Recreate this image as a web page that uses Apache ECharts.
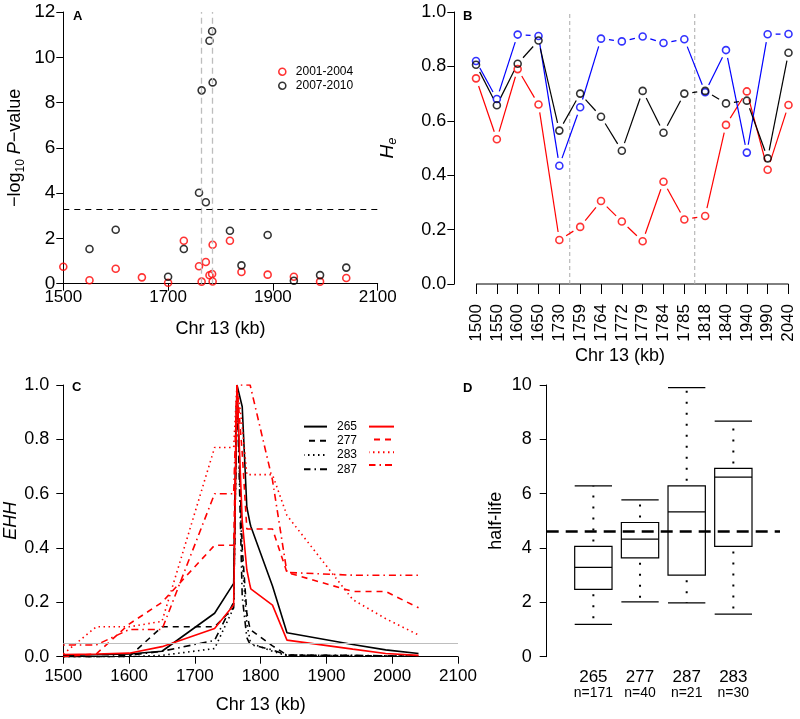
<!DOCTYPE html>
<html>
<head>
<meta charset="utf-8">
<script src="https://cdn.jsdelivr.net/npm/echarts@6/dist/echarts.min.js"></script>
<style>
html, body { margin: 0; padding: 0; background: #fff; }
#chart { width: 800px; height: 719px; }
</style>
</head>
<body>
<div id="chart"></div>
<script>
const FONT = "'Liberation Sans', Arial, sans-serif"

// A: -log10 p-value by position
const aPosRed = [1500, 1550, 1600, 1650, 1700, 1730, 1759, 1764, 1772, 1779, 1784, 1785, 1785, 1818, 1840, 1890, 1940, 1990, 2040]
const aValRed = [0.75, 0.15, 0.66, 0.28, 0.04, 1.9, 0.77, 0.09, 0.96, 0.37, 0.43, 1.72, 0.1, 1.9, 0.52, 0.4, 0.31, 0.09, 0.25]
const aPosBlack = [1550, 1600, 1700, 1730, 1759, 1764, 1772, 1779, 1784, 1785, 1818, 1840, 1890, 1940, 1990, 2040]
const aValBlack = [1.53, 2.38, 0.31, 1.53, 4.02, 8.54, 3.6, 10.73, 11.15, 8.89, 2.34, 0.81, 2.15, 0.13, 0.38, 0.71]
const aThreshold = 3.3
const aMarks = [1764, 1785]

// B: He per marker
const bPositions = ['1500', '1550', '1600', '1650', '1730', '1759', '1764', '1772', '1779', '1784', '1785', '1818', '1840', '1940', '1990', '2040']
const bBlue = [0.82, 0.68, 0.917, 0.912, 0.435, 0.65, 0.902, 0.892, 0.91, 0.886, 0.9, 0.705, 0.86, 0.483, 0.918, 0.919]
const bBlack = [0.806, 0.657, 0.81, 0.895, 0.564, 0.7, 0.615, 0.49, 0.71, 0.556, 0.7, 0.71, 0.664, 0.674, 0.462, 0.85]
const bRed = [0.756, 0.532, 0.79, 0.66, 0.162, 0.21, 0.305, 0.23, 0.157, 0.376, 0.237, 0.25, 0.585, 0.708, 0.42, 0.658]

// C: EHH curves
const cPositions = [1500, 1550, 1600, 1650, 1730, 1759, 1764, 1772, 1779, 1784, 1785, 1818, 1840, 1940, 1990, 2040]
const cBlack265 = [0.005, 0.007, 0.01, 0.02, 0.16, 0.27, 1.0, 0.92, 0.55, 0.49, 0.48, 0.26, 0.088, 0.045, 0.025, 0.012]
const cBlack277 = [0, 0, 0, 0.11, 0.11, 0.18, 1.0, 0.4, 0.16, 0.1, 0.098, 0.04, 0.006, 0.004, 0.003, 0.002]
const cBlack283 = [0, 0, 0, 0.005, 0.03, 0.18, 1.0, 0.35, 0.12, 0.06, 0.05, 0.02, 0.004, 0.004, 0.003, 0.002]
const cBlack287 = [0, 0, 0.005, 0.02, 0.06, 0.2, 1.0, 0.22, 0.07, 0.045, 0.043, 0.025, 0.006, 0.005, 0.003, 0.002]
const cRed265 = [0.008, 0.01, 0.013, 0.037, 0.104, 0.19, 1.0, 0.5, 0.32, 0.26, 0.25, 0.19, 0.061, 0.028, 0.012, 0.005]
const cRed277 = [0, 0.01, 0.12, 0.2, 0.41, 0.41, 1.0, 0.75, 0.47, 0.47, 0.47, 0.47, 0.31, 0.24, 0.24, 0.18]
const cRed283 = [0.01, 0.11, 0.11, 0.13, 0.77, 0.77, 1.0, 0.85, 0.67, 0.67, 0.67, 0.67, 0.52, 0.21, 0.14, 0.08]
const cRed287 = [0.043, 0.043, 0.1, 0.1, 0.6, 0.6, 1.0, 1.0, 1.0, 1.0, 1.0, 0.65, 0.31, 0.3, 0.3, 0.3]
const cCutoff = 0.05

// D: half-life boxplots
const dNames = ['265', '277', '287', '283']
const dCounts = ['n=171', 'n=40', 'n=21', 'n=30']
const dLow = [1.19, 2.02, 1.98, 1.57]
const dQ1 = [2.48, 3.64, 3.0, 4.06]
const dMed = [3.29, 4.33, 5.33, 6.61]
const dQ3 = [4.06, 4.94, 6.29, 6.93]
const dHigh = [6.29, 5.77, 9.9, 8.67]
const dMean = 4.6

const zip = (xs, ys) => xs.map((x, i) => [x, ys[i]])

function baseAxis(extra) {
  let ax = {
    type: 'value',
    axisLine: { show: true, lineStyle: { color: '#000', width: 1 } },
    axisTick: { show: true, length: 7, lineStyle: { color: '#000', width: 1 } },
    axisLabel: { color: '#000', fontSize: 18, fontFamily: FONT },
    splitLine: { show: false },
    nameLocation: 'middle',
    nameTextStyle: { color: '#000', fontSize: 18, fontFamily: FONT }
  }
  for (let k in extra) {
    if (typeof extra[k] === 'object' && !Array.isArray(extra[k]) && ax[k]) {
      ax[k] = Object.assign({}, ax[k], extra[k])
    } else {
      ax[k] = extra[k]
    }
  }
  return ax
}

// R "type b" lines: segments stop short of the points
function gapSegments(vals) {
  let d = []
  for (let i = 0; i < vals.length - 1; i++) d.push([i, vals[i], i + 1, vals[i + 1]])
  return d
}
function gapRenderer(color) {
  return function (params, api) {
    let p1 = api.coord([api.value(0), api.value(1)])
    let p2 = api.coord([api.value(2), api.value(3)])
    let dx = p2[0] - p1[0], dy = p2[1] - p1[1]
    let len = Math.sqrt(dx * dx + dy * dy)
    let gap = 8
    if (len <= 2 * gap) return null
    let ux = dx / len, uy = dy / len
    return {
      type: 'line',
      shape: { x1: p1[0] + ux * gap, y1: p1[1] + uy * gap, x2: p2[0] - ux * gap, y2: p2[1] - uy * gap },
      style: { stroke: color, lineWidth: 1.2 }
    }
  }
}

function renderBox(params, api) {
  let x = api.value(0)
  let cL = api.coord([x - 0.4, 0])[0], cR = api.coord([x + 0.4, 0])[0], cM = api.coord([x, 0])[0]
  let y = k => api.coord([x, api.value(k)])[1]
  let yLow = y(1), yQ1 = y(2), yMed = y(3), yQ3 = y(4), yHigh = y(5)
  let solid = { stroke: '#000', lineWidth: 1.2 }
  let dots = { stroke: '#000', lineWidth: 2, lineDash: [2, 9], lineDashOffset: 6 }
  return {
    type: 'group',
    children: [
      { type: 'line', shape: { x1: cM, y1: yQ3, x2: cM, y2: yHigh }, style: dots },
      { type: 'line', shape: { x1: cM, y1: yQ1, x2: cM, y2: yLow }, style: dots },
      { type: 'rect', shape: { x: cL, y: yQ3, width: cR - cL, height: yQ1 - yQ3 }, style: { stroke: '#000', lineWidth: 1.2, fill: 'none' } },
      { type: 'line', shape: { x1: cL, y1: yMed, x2: cR, y2: yMed }, style: solid },
      { type: 'line', shape: { x1: cL, y1: yHigh, x2: cR, y2: yHigh }, style: solid },
      { type: 'line', shape: { x1: cL, y1: yLow, x2: cR, y2: yLow }, style: solid }
    ]
  }
}

const DASH = [6, 5], DOT = [1.5, 3.5], DOTDASH = [1.5, 4, 7, 4]

function ehhLine(name, vals, color, type) {
  return {
    name: name,
    type: 'line',
    xAxisIndex: 2,
    yAxisIndex: 2,
    data: zip(cPositions, vals),
    symbol: 'none',
    lineStyle: { color: color, width: 1.6, type: type },
    itemStyle: { color: color },
    z: 3
  }
}

function hollow(color) {
  return { color: 'rgba(0,0,0,0)', borderColor: color, borderWidth: 1.6 }
}

let chart = echarts.init(document.getElementById('chart'))

let option = {
  animation: false,
  backgroundColor: '#fff',
  textStyle: { fontFamily: FONT },
  grid: [
    { left: 63.3, right: 422.3, top: 12, bottom: 435.3 },
    { left: 465.6, right: 1.1, top: 12, bottom: 435 },
    { left: 63.3, right: 342, top: 385, bottom: 62.3 },
    { left: 546.7, right: 20, top: 385, bottom: 62.3 }
  ],
  xAxis: [
    baseAxis({ gridIndex: 0, min: 1500, max: 2100, interval: 200,
      axisLabel: { margin: 5, fontSize: 17, formatter: v => String(v) }, name: 'Chr 13 (kb)', nameGap: 36 }),
    baseAxis({ gridIndex: 1, type: 'category', data: bPositions, boundaryGap: true,
      axisLine: { show: false },
      axisTick: { alignWithLabel: true, length: 10 },
      axisLabel: { rotate: 90, margin: 20, fontSize: 17, interval: 0 } }),
    baseAxis({ gridIndex: 2, min: 1500, max: 2100, interval: 100,
      axisLabel: { margin: 11, fontSize: 17, formatter: v => String(v) }, name: 'Chr 13 (kb)', nameGap: 39 }),
    baseAxis({ gridIndex: 3, min: 0, max: 5, interval: 1,
      axisLine: { show: false }, axisTick: { show: false },
      axisLabel: {
        margin: 12,
        formatter: v => (v >= 1 && v <= 4) ? '{a|' + dNames[v - 1] + '}\n{b|' + dCounts[v - 1] + '}' : '',
        rich: {
          a: { fontSize: 17, lineHeight: 17, color: '#000', fontFamily: FONT },
          b: { fontSize: 14, lineHeight: 15, color: '#000', fontFamily: FONT }
        }
      } })
  ],
  yAxis: [
    baseAxis({ gridIndex: 0, min: 0, max: 12, interval: 2,
      axisLabel: { margin: 8, fontSize: 19 },
      name: '{t|−log}{s|10}{t| }{i|P}{t|−value}', nameGap: 37, nameRotate: 90,
      nameTextStyle: {
        rich: {
          t: { fontSize: 18, lineHeight: 22, color: '#000', fontFamily: FONT },
          i: { fontSize: 18, lineHeight: 22, fontStyle: 'italic', color: '#000', fontFamily: FONT },
          s: { fontSize: 12, lineHeight: 12, verticalAlign: 'bottom', color: '#000', fontFamily: FONT }
        }
      } }),
    baseAxis({ gridIndex: 1, min: 0, max: 1, interval: 0.2, offset: 11.3,
      axisLabel: { margin: 8, fontSize: 18, formatter: v => v.toFixed(1) },
      name: '{h|H}{e|e}', nameGap: 55, nameRotate: 90,
      nameTextStyle: {
        rich: {
          h: { fontSize: 19, lineHeight: 24, fontStyle: 'italic', color: '#000', fontFamily: FONT },
          e: { fontSize: 13, lineHeight: 13, fontStyle: 'italic', verticalAlign: 'bottom', color: '#000', fontFamily: FONT }
        }
      } }),
    baseAxis({ gridIndex: 2, min: 0, max: 1, interval: 0.2,
      axisLabel: { margin: 14, fontSize: 18, formatter: v => v.toFixed(1) },
      name: 'EHH', nameGap: 39, nameRotate: 90,
      nameTextStyle: { fontStyle: 'italic' } }),
    baseAxis({ gridIndex: 3, min: 0, max: 10, interval: 2,
      axisLabel: { margin: 15, fontSize: 18 },
      name: 'half-life', nameGap: 42, nameRotate: 90 })
  ],
  legend: [
    {
      data: ['2001-2004', '2007-2010'],
      orient: 'vertical', left: 278, top: 64.7, padding: 0,
      itemWidth: 7, itemHeight: 14, itemGap: 0, icon: 'circle', selectedMode: false,
      itemStyle: { color: 'rgba(0,0,0,0)', borderWidth: 1.6 },
      textStyle: { fontSize: 12, lineHeight: 14, color: '#000', padding: [0, 0, 0, 5] }
    },
    {
      data: ['k265', 'k277', 'k283', 'k287'],
      formatter: n => n.slice(1),
      orient: 'vertical', left: 303, top: 419.6, padding: 0,
      itemWidth: 23, itemHeight: 14, itemGap: 0.2, selectedMode: false,
      itemStyle: { opacity: 0 },
      textStyle: { fontSize: 12, lineHeight: 14, color: '#000', padding: [0, 0, 0, 5] }
    },
    {
      data: ['r265', 'r277', 'r283', 'r287'],
      formatter: () => '',
      orient: 'vertical', left: 368, top: 419.6, padding: 0,
      itemWidth: 25, itemHeight: 14, itemGap: 0.2, selectedMode: false,
      itemStyle: { opacity: 0 }
    }
  ],
  graphic: [
    { type: 'text', x: 73, y: 16, style: { text: 'A', fontSize: 13, fontWeight: 'bold', fontFamily: FONT, fill: '#000', verticalAlign: 'middle' } },
    { type: 'text', x: 463, y: 16, style: { text: 'B', fontSize: 13, fontWeight: 'bold', fontFamily: FONT, fill: '#000', verticalAlign: 'middle' } },
    { type: 'text', x: 72, y: 387, style: { text: 'C', fontSize: 13, fontWeight: 'bold', fontFamily: FONT, fill: '#000', verticalAlign: 'middle' } },
    { type: 'text', x: 463, y: 388, style: { text: 'D', fontSize: 13, fontWeight: 'bold', fontFamily: FONT, fill: '#000', verticalAlign: 'middle' } },
    { type: 'text', x: 620, y: 356, style: { text: 'Chr 13 (kb)', fontSize: 18, fontFamily: FONT, fill: '#000', align: 'center', verticalAlign: 'middle' } }
  ],
  series: [
    // A
    {
      name: '2001-2004', type: 'scatter', xAxisIndex: 0, yAxisIndex: 0,
      data: zip(aPosRed, aValRed), symbol: 'circle', symbolSize: 7,
      itemStyle: hollow('#ff0000'), z: 3,
      markLine: {
        silent: true, symbol: ['none', 'none'], label: { show: false },
        data: [
          { xAxis: aMarks[0], lineStyle: { color: '#bdbdbd', width: 1.3, type: [6, 4] } },
          { xAxis: aMarks[1], lineStyle: { color: '#bdbdbd', width: 1.3, type: [6, 4] } },
          { yAxis: aThreshold, lineStyle: { color: '#000', width: 1, type: [6, 5] } }
        ]
      }
    },
    {
      name: '2007-2010', type: 'scatter', xAxisIndex: 0, yAxisIndex: 0,
      data: zip(aPosBlack, aValBlack), symbol: 'circle', symbolSize: 7,
      itemStyle: hollow('#000000'), z: 4
    },
    // B
    {
      type: 'custom', xAxisIndex: 1, yAxisIndex: 1, silent: true,
      data: [[0, 15]],
      renderItem: (params, api) => {
        let p1 = api.coord([api.value(0), 0]), p2 = api.coord([api.value(1), 0])
        return { type: 'line', shape: { x1: p1[0], y1: p1[1], x2: p2[0], y2: p2[1] }, style: { stroke: '#000', lineWidth: 1 } }
      }
    },
    {
      type: 'custom', xAxisIndex: 1, yAxisIndex: 1, silent: true,
      data: [[4, 5], [10, 11]],
      renderItem: (params, api) => {
        let a = api.coord([api.value(0), 0]), b = api.coord([api.value(1), 1])
        let x = (a[0] + b[0]) / 2
        return { type: 'line', shape: { x1: x, y1: a[1], x2: x, y2: b[1] }, style: { stroke: '#aaaaaa', lineWidth: 1, lineDash: [4, 3] } }
      }
    },
    { type: 'custom', xAxisIndex: 1, yAxisIndex: 1, data: gapSegments(bRed), renderItem: gapRenderer('#ff0000'), encode: { x: [0, 2], y: [1, 3] }, silent: true },
    { type: 'custom', xAxisIndex: 1, yAxisIndex: 1, data: gapSegments(bBlue), renderItem: gapRenderer('#0000ff'), encode: { x: [0, 2], y: [1, 3] }, silent: true },
    { type: 'custom', xAxisIndex: 1, yAxisIndex: 1, data: gapSegments(bBlack), renderItem: gapRenderer('#000000'), encode: { x: [0, 2], y: [1, 3] }, silent: true },
    { type: 'scatter', xAxisIndex: 1, yAxisIndex: 1, data: bRed, symbol: 'circle', symbolSize: 7, itemStyle: hollow('#ff0000'), z: 3 },
    { type: 'scatter', xAxisIndex: 1, yAxisIndex: 1, data: bBlue, symbol: 'circle', symbolSize: 7, itemStyle: hollow('#0000ff'), z: 3 },
    { type: 'scatter', xAxisIndex: 1, yAxisIndex: 1, data: bBlack, symbol: 'circle', symbolSize: 7, itemStyle: hollow('#000000'), z: 4 },
    // C
    Object.assign(ehhLine('k265', cBlack265, '#000000', 'solid'), {
      markLine: {
        silent: true, symbol: ['none', 'none'], label: { show: false },
        lineStyle: { color: '#bebebe', width: 1, type: 'solid' },
        data: [{ yAxis: cCutoff }]
      }
    }),
    ehhLine('k277', cBlack277, '#000000', DASH),
    ehhLine('k283', cBlack283, '#000000', DOT),
    ehhLine('k287', cBlack287, '#000000', DOTDASH),
    ehhLine('r265', cRed265, '#ff0000', 'solid'),
    ehhLine('r277', cRed277, '#ff0000', DASH),
    ehhLine('r283', cRed283, '#ff0000', DOT),
    ehhLine('r287', cRed287, '#ff0000', DOTDASH),
    // D
    {
      type: 'custom', xAxisIndex: 3, yAxisIndex: 3, silent: true,
      data: dNames.map((n, i) => [i + 1, dLow[i], dQ1[i], dMed[i], dQ3[i], dHigh[i]]),
      encode: { x: 0, y: [1, 2, 3, 4, 5] },
      renderItem: renderBox,
      markLine: {
        silent: true, symbol: ['none', 'none'], label: { show: false },
        lineStyle: { color: '#000', width: 2.5, type: [12, 7] },
        data: [{ yAxis: dMean }]
      }
    }
  ]
}

chart.setOption(option)
window.addEventListener('resize', function () {
  chart.resize()
})
</script>
</body>
</html>
